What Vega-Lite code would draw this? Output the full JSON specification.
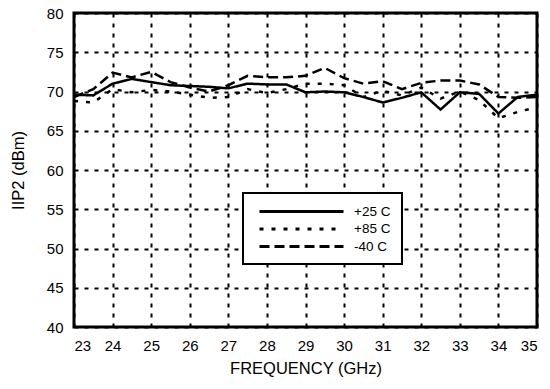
{
  "$schema": "https://vega.github.io/schema/vega-lite/v6.json",
  "autosize": {"type": "none"},
  "padding": {"left": 74, "top": 13, "right": 13, "bottom": 62},
  "width": 463,
  "height": 314,
  "background": "white",
  "config": {
    "font": "Liberation Sans",
    "view": {"stroke": "black", "strokeWidth": 3},
    "axis": {
      "labelFont": "Liberation Sans",
      "titleFont": "Liberation Sans",
      "labelColor": "black",
      "titleColor": "black",
      "labelFontSize": 15,
      "titleFontSize": 16.5,
      "titleFontWeight": "normal",
      "domain": false,
      "ticks": false,
      "grid": true,
      "gridColor": "black",
      "gridWidth": 2,
      "gridDash": [4, 6],
      "gridOpacity": 1
    }
  },
  "data": {
    "values": [
      {"f": 23, "v": 69.6, "s": "+25 C"}, {"f": 23.5, "v": 69.5, "s": "+25 C"}, {"f": 24, "v": 71.0, "s": "+25 C"}, {"f": 24.5, "v": 71.6, "s": "+25 C"}, {"f": 25, "v": 71.2, "s": "+25 C"}, {"f": 25.5, "v": 70.8, "s": "+25 C"}, {"f": 26, "v": 70.7, "s": "+25 C"}, {"f": 26.5, "v": 70.6, "s": "+25 C"}, {"f": 27, "v": 70.4, "s": "+25 C"}, {"f": 27.5, "v": 71.0, "s": "+25 C"}, {"f": 28, "v": 70.9, "s": "+25 C"}, {"f": 28.5, "v": 70.9, "s": "+25 C"}, {"f": 29, "v": 69.9, "s": "+25 C"}, {"f": 29.5, "v": 70.0, "s": "+25 C"}, {"f": 30, "v": 69.9, "s": "+25 C"}, {"f": 30.5, "v": 69.3, "s": "+25 C"}, {"f": 31, "v": 68.6, "s": "+25 C"}, {"f": 31.5, "v": 69.2, "s": "+25 C"}, {"f": 32, "v": 69.9, "s": "+25 C"}, {"f": 32.5, "v": 67.7, "s": "+25 C"}, {"f": 33, "v": 69.9, "s": "+25 C"}, {"f": 33.5, "v": 69.7, "s": "+25 C"}, {"f": 34, "v": 67.2, "s": "+25 C"}, {"f": 34.5, "v": 69.3, "s": "+25 C"}, {"f": 35, "v": 69.6, "s": "+25 C"},
      {"f": 23, "v": 68.8, "s": "+85 C"}, {"f": 23.5, "v": 68.6, "s": "+85 C"}, {"f": 24, "v": 70.3, "s": "+85 C"}, {"f": 24.5, "v": 69.9, "s": "+85 C"}, {"f": 25, "v": 70.2, "s": "+85 C"}, {"f": 25.5, "v": 70.0, "s": "+85 C"}, {"f": 26, "v": 69.6, "s": "+85 C"}, {"f": 26.5, "v": 69.2, "s": "+85 C"}, {"f": 27, "v": 69.3, "s": "+85 C"}, {"f": 27.5, "v": 70.3, "s": "+85 C"}, {"f": 28, "v": 69.8, "s": "+85 C"}, {"f": 28.5, "v": 70.3, "s": "+85 C"}, {"f": 29, "v": 71.0, "s": "+85 C"}, {"f": 29.5, "v": 71.0, "s": "+85 C"}, {"f": 30, "v": 70.8, "s": "+85 C"}, {"f": 30.5, "v": 69.3, "s": "+85 C"}, {"f": 31, "v": 70.1, "s": "+85 C"}, {"f": 31.5, "v": 69.5, "s": "+85 C"}, {"f": 32, "v": 70.5, "s": "+85 C"}, {"f": 32.5, "v": 69.1, "s": "+85 C"}, {"f": 33, "v": 70.0, "s": "+85 C"}, {"f": 33.5, "v": 68.9, "s": "+85 C"}, {"f": 34, "v": 66.6, "s": "+85 C"}, {"f": 34.5, "v": 67.4, "s": "+85 C"}, {"f": 35, "v": 68.0, "s": "+85 C"},
      {"f": 23, "v": 69.3, "s": "-40 C"}, {"f": 23.5, "v": 70.3, "s": "-40 C"}, {"f": 24, "v": 72.4, "s": "-40 C"}, {"f": 24.5, "v": 71.8, "s": "-40 C"}, {"f": 25, "v": 72.5, "s": "-40 C"}, {"f": 25.5, "v": 71.2, "s": "-40 C"}, {"f": 26, "v": 70.5, "s": "-40 C"}, {"f": 26.5, "v": 70.0, "s": "-40 C"}, {"f": 27, "v": 70.8, "s": "-40 C"}, {"f": 27.5, "v": 72.0, "s": "-40 C"}, {"f": 28, "v": 71.8, "s": "-40 C"}, {"f": 28.5, "v": 71.8, "s": "-40 C"}, {"f": 29, "v": 72.0, "s": "-40 C"}, {"f": 29.5, "v": 73.0, "s": "-40 C"}, {"f": 30, "v": 71.7, "s": "-40 C"}, {"f": 30.5, "v": 71.0, "s": "-40 C"}, {"f": 31, "v": 71.3, "s": "-40 C"}, {"f": 31.5, "v": 70.3, "s": "-40 C"}, {"f": 32, "v": 71.1, "s": "-40 C"}, {"f": 32.5, "v": 71.4, "s": "-40 C"}, {"f": 33, "v": 71.4, "s": "-40 C"}, {"f": 33.5, "v": 70.9, "s": "-40 C"}, {"f": 34, "v": 69.3, "s": "-40 C"}, {"f": 34.5, "v": 69.2, "s": "-40 C"}, {"f": 35, "v": 69.3, "s": "-40 C"}
    ]
  },
  "mark": {"type": "line", "color": "black", "strokeWidth": 2.5},
  "encoding": {
    "x": {
      "field": "f", "type": "quantitative",
      "scale": {"domain": [23, 35], "nice": false, "zero": false},
      "axis": {"values": [23,24,25,26,27,28,29,30,31,32,33,34,35], "title": "FREQUENCY (GHz)", "labelPadding": 11, "titlePadding": 7}
    },
    "y": {
      "field": "v", "type": "quantitative",
      "scale": {"domain": [40, 80], "nice": false, "zero": false},
      "axis": {"values": [40,45,50,55,60,65,70,75,80], "title": "IIP2 (dBm)", "labelPadding": 11, "titlePadding": 20}
    },
    "strokeDash": {
      "field": "s", "type": "nominal",
      "scale": {"domain": ["+25 C", "+85 C", "-40 C"], "range": [[1, 0], [4, 8], [10, 5]]},
      "legend": {
        "title": null,
        "orient": "none",
        "legendX": 169,
        "legendY": 180,
        "fillColor": "white",
        "strokeColor": "black",
        "padding": 11,
        "symbolType": "M-7,0H7",
        "symbolStrokeColor": "black",
        "symbolFillColor": "transparent",
        "symbolStrokeWidth": 3,
        "symbolSize": 144,
        "symbolOffset": 40,
        "labelFont": "Liberation Sans",
        "labelFontSize": 13.5,
        "labelColor": "black",
        "labelOffset": 45,
        "rowPadding": 3.5,
        "encode": {"legend": {"update": {"strokeWidth": {"value": 2}}}}
      }
    }
  }
}
